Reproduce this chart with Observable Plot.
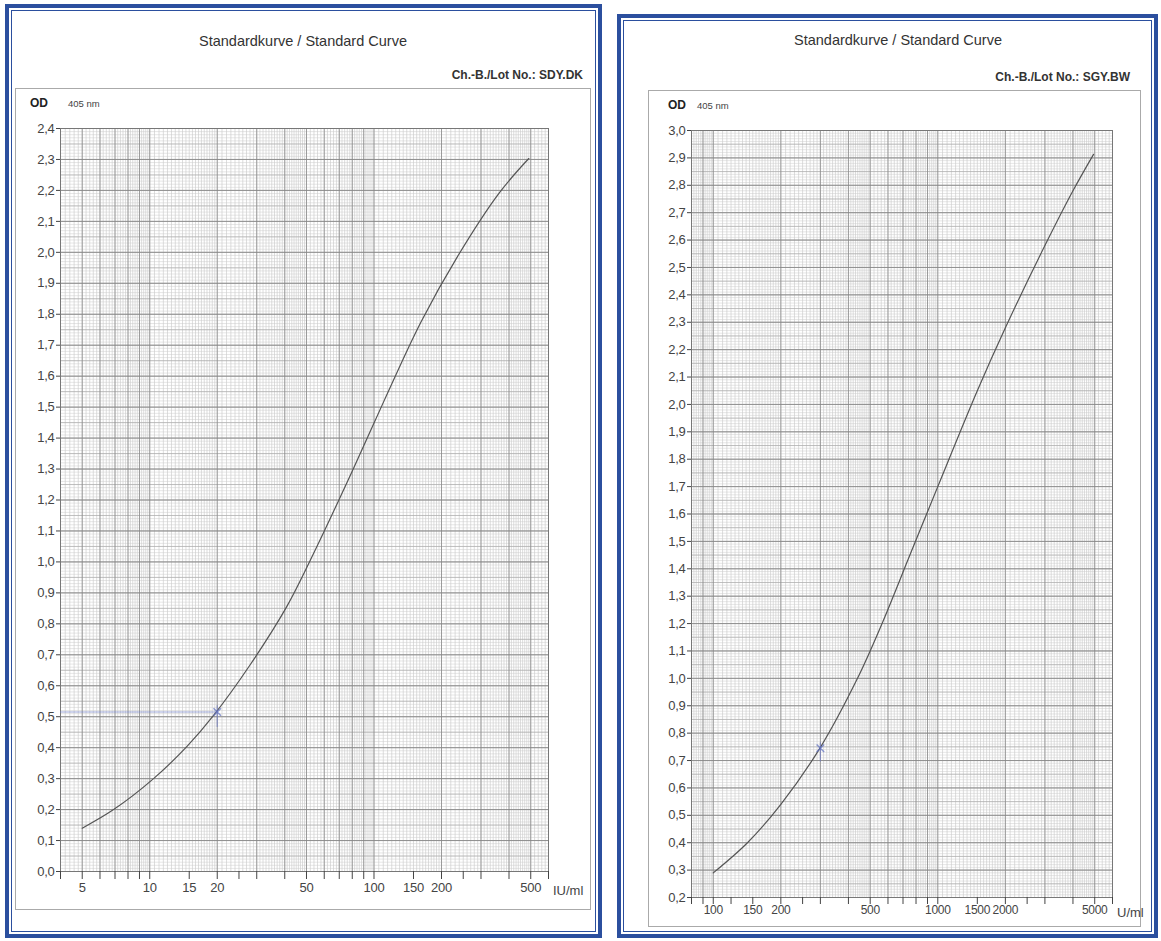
<!DOCTYPE html>
<html><head><meta charset="utf-8">
<script src="https://cdn.jsdelivr.net/npm/d3@7"></script>
<script src="https://cdn.jsdelivr.net/npm/@observablehq/plot@0.6"></script>
<style>
body{margin:0;background:#fff;font-family:"Liberation Sans",Arial,sans-serif;}
#page{position:relative;width:1161px;height:941px;overflow:hidden;background:#fff;}
.panel{position:absolute;box-sizing:border-box;border:4px solid #2b4f9e;box-shadow:inset 0 0 0 2px #fff, inset 0 0 0 3px #2b4f9e;}
.paper{position:absolute;box-sizing:border-box;border:1px solid #aaa;}
.t{position:absolute;white-space:nowrap;color:#333;}
.title{font-size:14.5px;transform:translateX(-50%);}
.lot{font-size:12px;font-weight:bold;transform:translateX(-100%);}
.od{font-size:12px;font-weight:bold;color:#222;}
.nm{font-size:9.5px;color:#444;}
.unit{font-size:13px;color:#444;}
.svgbox{position:absolute;}
.svgbox svg text{letter-spacing:-0.3px;}
</style>
</head><body>
<div id="page">
  <div class="panel" style="left:5px;top:4px;width:597px;height:934px;"></div>
  <div class="panel" style="left:617px;top:14px;width:541px;height:924px;"></div>
  <div class="paper" style="left:15px;top:88px;width:576px;height:822px;"></div>
  <div class="paper" style="left:648px;top:90px;width:493px;height:837px;"></div>

  <div class="t title" style="left:303px;top:33px;">Standardkurve / Standard Curve</div>
  <div class="t lot" style="left:583px;top:68px;">Ch.-B./Lot No.: SDY.DK</div>
  <div class="t od" style="left:30px;top:96px;">OD</div>
  <div class="t nm" style="left:68px;top:98px;">405 nm</div>

  <div class="t title" style="left:898px;top:32px;">Standardkurve / Standard Curve</div>
  <div class="t lot" style="left:1130px;top:70px;">Ch.-B./Lot No.: SGY.BW</div>
  <div class="t od" style="left:668px;top:98px;">OD</div>
  <div class="t nm" style="left:697px;top:100px;">405 nm</div>

  <div class="svgbox" id="left" style="left:15px;top:88px;"></div>
  <div class="svgbox" id="right" style="left:648px;top:90px;"></div>
  <div class="t unit" style="left:553px;top:883px;">IU/ml</div>
  <div class="t unit" style="left:1117px;top:905px;">U/ml</div>
</div>
<script>
// ---- Data: left chart (Lot SDY.DK) ----
const leftDoses = [5, 6.9, 10.4, 14.7, 19.3, 28, 41, 56, 81, 111, 162, 236, 362, 490];
const leftOD    = [0.14, 0.20, 0.30, 0.405, 0.505, 0.667, 0.858, 1.054, 1.302, 1.521, 1.775, 1.987, 2.192, 2.303];
const leftTicks = [4,5,6,7,8,9,10,15,20,25,30,40,50,60,70,80,90,100,150,200,250,300,400,500,600];
const leftLabels = [5,10,15,20,50,100,150,200,500];
const leftMarkDose = [20];
const leftMarkOD = [0.515];

// ---- Data: right chart (Lot SGY.BW) ----
const rightDoses = [100, 142, 200, 301, 439, 558, 760, 1000, 1500, 2000, 3000, 4000, 4940];
const rightOD    = [0.29, 0.40, 0.54, 0.75, 1.00, 1.19, 1.46, 1.70, 2.05, 2.28, 2.58, 2.78, 2.913];
const rightTicks = [80,90,100,120,150,200,250,300,400,500,600,700,800,900,1000,1500,2000,2500,3000,4000,5000,6000];
const rightLabels = [100,150,200,500,1000,1500,2000,5000];
const rightMarkDose = [300];
const rightMarkOD = [0.745];

const fmtOD = d => d.toFixed(1).replace(".", ",");
const rng = (a, b, s) => d3.range(Math.round(a / s), Math.round(b / s) + 1).map(i => +(i * s).toFixed(4));

function logGrid(segments) {
  const out = [];
  for (const [a, b, s] of segments) for (const v of rng(a, b, s)) if (!out.includes(v)) out.push(v);
  return out;
}

function chart({doses, od, ticks, labels, xDomain, yDomain, vGrid, vMajor, width, height, margins, markDose, markOD, hLine, tickSize, labelDy, labelSize}) {
  const data = doses.map((d, i) => ({dose: d, od: od[i]}));
  const [y0, y1] = yDomain;
  const hMinor = rng(y0, y1, 0.01);
  const hMid = rng(y0, y1, 0.05);
  const hMajor = rng(y0, y1, 0.1);
  const marks = [
    Plot.ruleX(vGrid, {stroke: "#c6c6c6", strokeWidth: 0.6}),
    Plot.ruleY(hMinor, {stroke: "#cdcdcd", strokeWidth: 0.5}),
    Plot.ruleY(hMid, {stroke: "#a4a4a4", strokeWidth: 0.6}),
    Plot.ruleX(vMajor, {stroke: "#8a8a8a", strokeWidth: 0.8}),
    Plot.ruleY(hMajor, {stroke: "#858585", strokeWidth: 0.8}),
    Plot.frame({stroke: "#777", strokeWidth: 1}),
    Plot.axisY({ticks: hMajor, tickFormat: fmtOD, tickSize: 4, tickPadding: 2, fontSize: 13, label: null}),
    Plot.axisX({ticks, tickFormat: () => "", tickSize, label: null}),
    Plot.text(labels, {x: d => d, text: d => String(d), frameAnchor: "bottom", dy: labelDy, fontSize: labelSize, fill: "#444"}),
    Plot.line(data, {x: "dose", y: "od", curve: "catmull-rom", stroke: "#555", strokeWidth: 1.2})
  ];
  const m = markDose.map((d, i) => ({dose: d, od: markOD[i]}));
  if (hLine) marks.push(Plot.ruleY(m, {x1: xDomain[0], x2: "dose", y: "od", stroke: "#7080c8", strokeOpacity: 0.45, strokeWidth: 1.5}));
  marks.push(Plot.ruleX(m, {x: "dose", y1: d => d.od - 0.05, y2: d => d.od + 0.02, stroke: "#6a78c4", strokeOpacity: 0.6, strokeWidth: 1.2}));
  marks.push(Plot.dot(m, {x: "dose", y: "od", symbol: "times", r: 3.5, stroke: "#6070c0", strokeOpacity: 0.7}));
  return Plot.plot({
    width, height,
    marginLeft: margins[0], marginRight: margins[1], marginTop: margins[2], marginBottom: margins[3],
    style: {background: "transparent", fontFamily: "Liberation Sans, Arial, sans-serif", color: "#444"},
    x: {type: "log", domain: xDomain, axis: null},
    y: {domain: yDomain, axis: null},
    marks
  });
}

const vGridL = logGrid([[4,10,0.2],[10,20,0.5],[20,50,1],[50,100,2],[100,200,5],[200,500,10],[500,600,20]]);
const vMajorL = [4,5,6,7,8,9,10,20,30,40,50,60,70,80,90,100,200,300,400,500,600];
document.getElementById("left").append(chart({
  doses: leftDoses, od: leftOD, ticks: leftTicks, labels: leftLabels,
  xDomain: [4, 600], yDomain: [0, 2.4], vGrid: vGridL, vMajor: vMajorL,
  width: 576, height: 822, margins: [45, 43, 40, 39],
  markDose: leftMarkDose, markOD: leftMarkOD, hLine: true, tickSize: 8, labelDy: 20, labelSize: 13
}));

const vGridR = logGrid([[80,100,2],[100,200,5],[200,500,10],[500,1000,20],[1000,2000,50],[2000,5000,100],[5000,6000,200]]);
const vMajorR = [80,90,100,200,300,400,500,600,700,800,900,1000,2000,3000,4000,5000,6000];
document.getElementById("right").append(chart({
  doses: rightDoses, od: rightOD, ticks: rightTicks, labels: rightLabels,
  xDomain: [80, 6000], yDomain: [0.2, 3.0], vGrid: vGridR, vMajor: vMajorR,
  width: 493, height: 837, margins: [43, 29, 40, 30],
  markDose: rightMarkDose, markOD: rightMarkOD, hLine: false, tickSize: 7, labelDy: 16, labelSize: 12
}));
</script>
</body></html>
